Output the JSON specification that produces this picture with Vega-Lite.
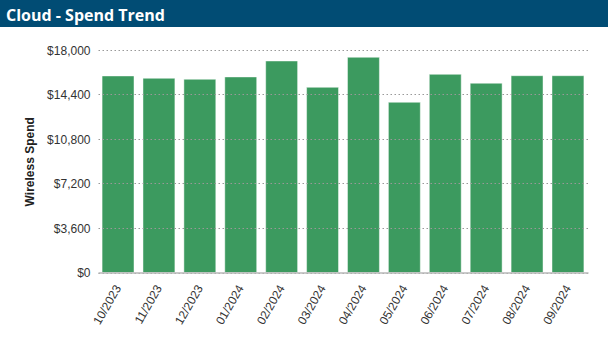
{
  "$schema": "https://vega.github.io/schema/vega-lite/v6.json",
  "autosize": {"type": "none"},
  "padding": {"top": 27, "left": 0, "right": 0, "bottom": 0},
  "background": "#014c74",
  "width": 608,
  "height": 324,
  "view": {"fill": "white", "stroke": null},
  "title": {
    "text": "Cloud - Spend Trend",
    "anchor": "start",
    "frame": "group",
    "color": "white",
    "font": "Open Sans",
    "fontSize": 16,
    "fontWeight": "bold",
    "baseline": "alphabetic",
    "offset": -10,
    "dx": 6
  },
  "data": {
    "values": [
      {"month": "10/2023", "spend": 15900},
      {"month": "11/2023", "spend": 15710},
      {"month": "12/2023", "spend": 15630},
      {"month": "01/2024", "spend": 15820},
      {"month": "02/2024", "spend": 17110},
      {"month": "03/2024", "spend": 14980},
      {"month": "04/2024", "spend": 17410},
      {"month": "05/2024", "spend": 13770},
      {"month": "06/2024", "spend": 16030},
      {"month": "07/2024", "spend": 15310},
      {"month": "08/2024", "spend": 15920},
      {"month": "09/2024", "spend": 15920}
    ]
  },
  "mark": {"type": "bar", "color": "#3c9a5f", "stroke": "#ffffff", "strokeOpacity": 0.45, "strokeWidth": 1},
  "encoding": {
    "x": {
      "field": "month",
      "type": "ordinal",
      "sort": null,
      "scale": {"range": [98, 588], "paddingInner": 0.22, "paddingOuter": 0.1},
      "axis": {
        "title": null,
        "offset": -78.5,
        "labelAngle": -60,
        "labelFont": "Liberation Sans",
        "labelFontSize": 12,
        "labelColor": "#333333",
        "labelPadding": 13,
        "ticks": false,
        "domainColor": "#b8b8b8",
        "domainWidth": 1.5,
        "zindex": 2
      }
    },
    "y": {
      "field": "spend",
      "type": "quantitative",
      "scale": {"domain": [0, 18000], "nice": false, "range": [245.5, 23]},
      "axis": {
        "offset": -98,
        "values": [0, 3600, 7200, 10800, 14400, 18000],
        "format": "$,.0f",
        "title": "Wireless Spend",
        "titleFont": "Liberation Sans",
        "titleFontSize": 12,
        "titleFontWeight": "bold",
        "titleColor": "#222222",
        "titlePadding": 10,
        "labelFont": "Liberation Sans",
        "labelFontSize": 12,
        "labelColor": "#333333",
        "labelPadding": 8,
        "domain": false,
        "ticks": false,
        "grid": true,
        "gridColor": "#999999",
        "gridDash": [1.5, 2.5],
        "gridWidth": 1,
        "zindex": 1
      }
    }
  }
}
